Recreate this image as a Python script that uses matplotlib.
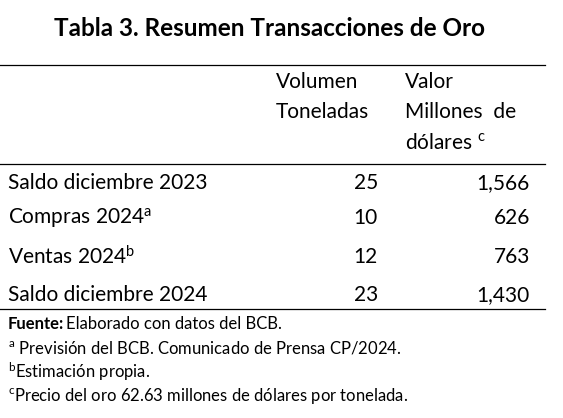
import matplotlib
matplotlib.use("Agg")
import matplotlib.pyplot as plt

plt.rcParams['font.family'] = ['Lato', 'DejaVu Sans']
plt.rcParams['mathtext.fontset'] = 'custom'
plt.rcParams['mathtext.rm'] = 'Lato'
plt.rcParams['mathtext.it'] = 'Lato'

title = "Tabla 3. Resumen Transacciones de Oro"
rows = ["Saldo diciembre 2023", "Compras 2024$^{\\mathrm{a}}$", "Ventas 2024$^{\\mathrm{b}}$", "Saldo diciembre 2024"]
volumen = ["25", "10", "12", "23"]
valor = ["1,566", "626", "763", "1,430"]
notes = ["Elaborado con datos del BCB.",
         "$^{\\mathrm{a}}$ Previsión del BCB. Comunicado de Prensa CP/2024.",
         "$^{\\mathrm{b}}$Estimación propia.",
         "$^{\\mathrm{c}}$Precio del oro 62.63 millones de dólares por tonelada."]

W, H = 563, 418
fig = plt.figure(figsize=(W/100, H/100), dpi=100)
def T(x, y, s, **kw):
    fig.text(x/W, 1-y/H, s, va='center', **kw)
def L(y):
    fig.add_artist(plt.Line2D([0, 545/W], [1-y/H]*2, color='black', lw=0.9))

T(270, 28, title, ha='center', fontsize=17.5, fontweight='bold')
L(65); L(164); L(309)
fs = 15
T(276, 82, "Volumen", fontsize=fs)
T(276, 112, "Toneladas", fontsize=fs)
T(405, 82, "Valor", fontsize=fs)
T(405, 112, "Millones  de", fontsize=fs)
T(405, 143, "dólares $^{\\mathrm{c}}$", fontsize=fs)
ys = [183, 218, 257, 295]
for y, r, v, p in zip(ys, rows, volumen, valor):
    T(8, y, r, fontsize=fs)
    T(378, y, v, fontsize=fs, ha='right')
    T(530, y, p, fontsize=fs, ha='right')
nf = 12
fig.text(8/W, 1-324/H, "Fuente:", fontsize=nf, fontweight='bold', va='center')
T(66, 324, notes[0], fontsize=nf)
for y, n in zip([348, 372, 396], notes[1:]):
    T(8, y, n, fontsize=nf)
fig.savefig("out.png", dpi=100)
